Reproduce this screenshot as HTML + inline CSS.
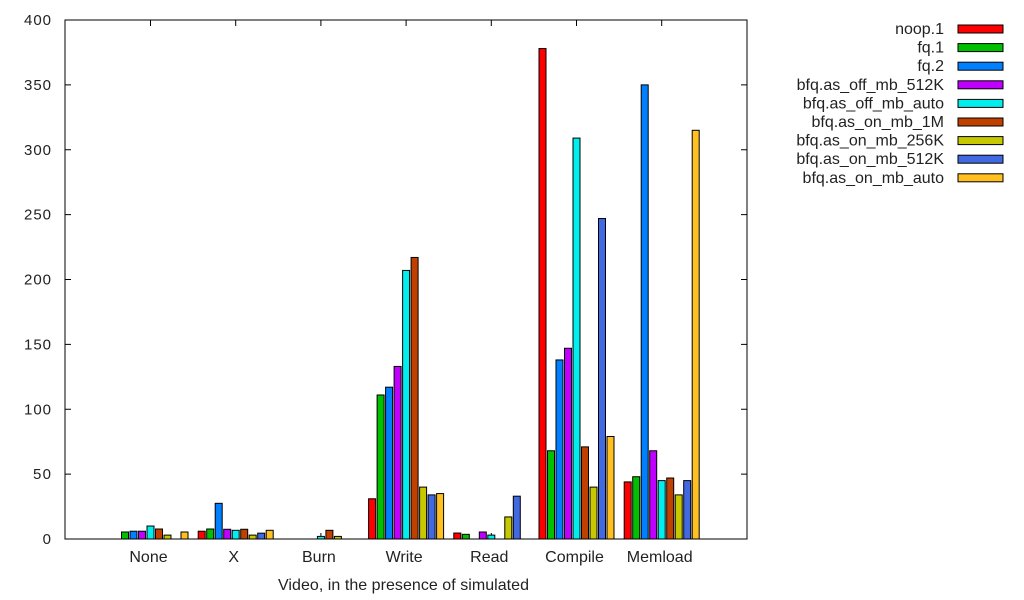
<!DOCTYPE html>
<html><head><meta charset="utf-8"><style>
html,body{margin:0;padding:0;background:#fff;}
svg{display:block;font-family:"Liberation Sans",sans-serif;font-size:15px;}
</style></head><body>
<svg id="s" width="1024" height="600" xmlns="http://www.w3.org/2000/svg"></svg>
<script>
var s=document.getElementById('s');var h='';
var L=65,R=747,T=20,B=539,k=(B-T)/400;
var cols=['#ff0000','#00c000','#0080ff','#c000ff','#00eeee','#c04000','#c8c800','#4169e1','#ffc020'];
var names=['noop.1','fq.1','fq.2','bfq.as_off_mb_512K','bfq.as_off_mb_auto','bfq.as_on_mb_1M','bfq.as_on_mb_256K','bfq.as_on_mb_512K','bfq.as_on_mb_auto'];
var groups=['None','X','Burn','Write','Read','Compile','Memload'];
var data=[[0,5.4,6,6,10,7.7,3,0,5.4],[6,7.7,27.5,7.5,6.7,7.5,3,4.5,6.7],[0,0,0,0,2,6.7,2,0,0],[31,111,117,133,207,217,40,34,35],[4.6,3.6,0,5.4,3,0,17,33,0],[378,68,138,147,309,71,40,247,79],[44,48,350,68,45,47,34,45,315]];
for(var v=0;v<=400;v+=50){var y=B-v*k;
h+='<line x1="'+L+'" y1="'+y+'" x2="'+(L+6)+'" y2="'+y+'" stroke="#000"/>';
h+='<line x1="'+R+'" y1="'+y+'" x2="'+(R-6)+'" y2="'+y+'" stroke="#000"/>';
h+='<text x="51" y="'+(y+5)+'" text-anchor="end" fill="#222" textLength="'+(v>=100?27:(v>0?18:9))+'">'+v+'</text>';}
for(var g=0;g<7;g++){var x0=113+85.2*g,c=x0+4*8.5+3.5;
h+='<line x1="'+c+'" y1="'+B+'" x2="'+c+'" y2="'+(B-6)+'" stroke="#000"/>';
h+='<line x1="'+c+'" y1="'+T+'" x2="'+c+'" y2="'+(T+6)+'" stroke="#000"/>';
h+='<text x="'+(c-2)+'" y="562" text-anchor="middle" fill="#222" style="font-size:16px">'+groups[g]+'</text>';
for(var i=0;i<9;i++){var val=data[g][i];if(val<=0)continue;var bh=val*k;
h+='<rect x="'+(x0+i*8.5)+'" y="'+(B-bh)+'" width="7" height="'+bh+'" fill="'+cols[i]+'" stroke="#000" stroke-width="1"/>';}}
h+='<rect x="'+L+'" y="'+T+'" width="'+(R-L)+'" height="'+(B-T)+'" fill="none" stroke="#000"/>';
h+='<text x="278" y="590" fill="#222" textLength="251" style="font-size:16px">Video, in the presence of simulated</text>';
for(var i=0;i<9;i++){var y=29+18.6*i;
h+='<text x="944" y="'+(y+5)+'" text-anchor="end" fill="#222" style="font-size:16px">'+names[i]+'</text>';
h+='<rect x="958" y="'+(y-4)+'" width="45" height="8" fill="'+cols[i]+'" stroke="#000"/>';}
s.innerHTML=h;
</script>
</body></html>
